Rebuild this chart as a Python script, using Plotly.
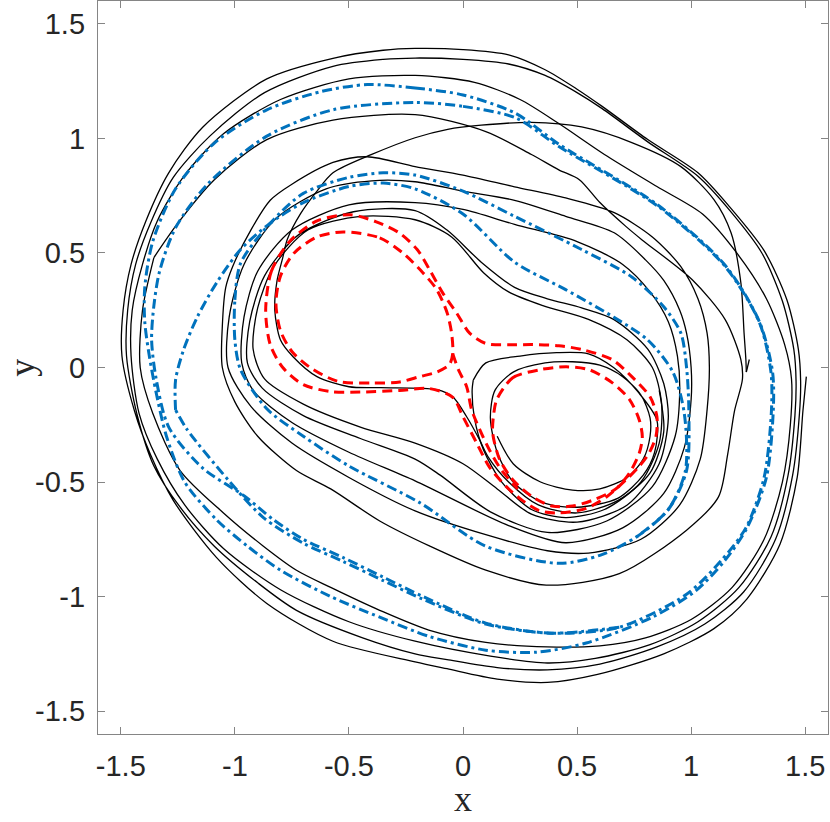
import plotly.graph_objects as go

# ---------------- data (data units) ----------------
tick_vals = [-1.5, -1, -0.5, 0, 0.5, 1, 1.5]
tick_text = ["-1.5", "-1", "-0.5", "0", "0.5", "1", "1.5"]

# black trajectory: outer laps, from the spike on the right to the corner on the left
traj_outer = [
    (1.505, -0.04), (1.49, -0.19), (1.465, -0.48), (1.39, -0.77), (1.245, -1.01), (1.10, -1.14),
    (0.88, -1.25), (0.59, -1.34), (0.37, -1.375), (0.15, -1.36), (-0.07, -1.315), (-0.21, -1.285),
    (-0.57, -1.195), (-0.86, -1.03), (-1.08, -0.83), (-1.27, -0.58), (-1.37, -0.38), (-1.44, -0.19),
    (-1.495, 0.05), (-1.49, 0.25), (-1.455, 0.45), (-1.39, 0.64), (-1.29, 0.85), (-1.14, 1.05),
    (-0.86, 1.26), (-0.57, 1.35), (-0.35, 1.385), (-0.21, 1.393), (0.0, 1.388), (0.2, 1.365),
    (0.36, 1.3), (0.5, 1.215), (0.61, 1.14), (0.81, 0.995), (1.03, 0.85), (1.17, 0.70), (1.32, 0.51),
    (1.42, 0.295), (1.47, 0.08), (1.48, -0.06), (1.475, -0.2), (1.445, -0.47), (1.37, -0.75),
    (1.23, -0.98), (1.06, -1.12), (0.85, -1.22), (0.6, -1.295), (0.37, -1.32), (0.15, -1.31),
    (-0.07, -1.275), (-0.21, -1.25), (-0.44, -1.18), (-0.73, -1.06), (-0.90, -0.94), (-1.09, -0.78),
    (-1.24, -0.61), (-1.355, -0.43), (-1.43, -0.2), (-1.475, 0.05), (-1.47, 0.25), (-1.435, 0.45),
    (-1.37, 0.63), (-1.27, 0.83), (-1.11, 1.01), (-0.87, 1.2), (-0.57, 1.315), (-0.35, 1.345),
    (-0.21, 1.351), (0.0, 1.345), (0.2, 1.325), (0.36, 1.275), (0.5, 1.2), (0.61, 1.13), (0.81, 0.985),
    (1.03, 0.835), (1.17, 0.685), (1.31, 0.5), (1.40, 0.29), (1.45, 0.08), (1.46, -0.06),
    (1.455, -0.21), (1.425, -0.47), (1.35, -0.74), (1.21, -0.96), (1.03, -1.11), (0.82, -1.21),
    (0.58, -1.27), (0.37, -1.29), (0.12, -1.26), (-0.21, -1.195), (-0.5, -1.11), (-0.8, -0.97),
    (-1.05, -0.79), (-1.22, -0.6), (-1.34, -0.4), (-1.42, -0.2), (-1.455, 0.05), (-1.45, 0.25),
    (-1.405, 0.45), (-1.34, 0.64), (-1.22, 0.84), (-1.05, 1.02), (-0.8, 1.17), (-0.5, 1.26),
    (-0.21, 1.275), (0.05, 1.245), (0.25, 1.17), (0.42, 1.065), (0.62, 0.93), (0.85, 0.79),
    (1.05, 0.67), (1.2, 0.5), (1.33, 0.3), (1.41, 0.1), (1.44, -0.05), (1.435, -0.25),
    (1.40, -0.5), (1.32, -0.75), (1.18, -0.96), (1.0, -1.1), (0.8, -1.18), (0.6, -1.215),
    (0.37, -1.22), (0.1, -1.2), (-0.15, -1.146), (-0.365, -1.06), (-0.58, -0.96), (-0.73, -0.885),
    (-0.875, -0.78), (-1.05, -0.635), (-1.24, -0.45), (-1.36, -0.2), (-1.415, 0.0), (-1.405, 0.25),
    (-1.355, 0.48),
]

# black trajectory: from the left corner inwards to the hook at the right lobe
traj_middle = [
    (-1.355, 0.48), (-1.25, 0.63), (-1.09, 0.82), (-0.86, 0.995), (-0.57, 1.08), (-0.21, 1.104),
    (0.1, 1.03), (0.3, 0.93), (0.42, 0.863), (0.51, 0.82), (0.6, 0.72), (0.715, 0.615),
    (0.785, 0.557), (1.005, 0.383), (1.15, 0.208), (1.218, 0.034), (1.225, -0.05), (1.19, -0.19),
    (1.16, -0.38), (1.12, -0.565), (0.98, -0.71), (0.685, -0.9), (0.365, -0.95), (0.10, -0.885),
    (-0.145, -0.78), (-0.365, -0.67), (-0.58, -0.53), (-0.73, -0.45), (-0.9, -0.3), (-1.0, -0.15),
    (-1.055, 0.0), (-1.055, 0.18), (-1.04, 0.35), (-1.01, 0.44), (-0.93, 0.6), (-0.845, 0.73),
    (-0.75, 0.8), (-0.57, 0.895), (-0.42, 0.92), (-0.21, 0.877), (0.0, 0.84), (0.226, 0.789),
    (0.45, 0.74), (0.663, 0.676), (0.83, 0.57), (0.955, 0.44), (1.03, 0.3), (1.07, 0.15),
    (1.08, 0.0), (1.07, -0.185), (1.04, -0.4), (0.95, -0.6), (0.78, -0.75), (0.55, -0.81),
    (0.37, -0.80), (0.1, -0.73), (-0.21, -0.626), (-0.5, -0.48), (-0.75, -0.33), (-0.93, -0.17),
    (-1.03, 0.0), (-1.025, 0.22), (-0.96, 0.45), (-0.82, 0.65), (-0.6, 0.78), (-0.4, 0.815),
    (-0.21, 0.811), (0.0, 0.77), (0.226, 0.73), (0.45, 0.66), (0.663, 0.588), (0.8, 0.47),
    (0.88, 0.38), (0.95, 0.25), (0.98, 0.15), (1.0, 0.0), (1.0, -0.14), (0.97, -0.35),
    (0.88, -0.55), (0.7, -0.7), (0.45, -0.765), (0.2, -0.69), (-0.21, -0.495), (-0.5, -0.37),
    (-0.75, -0.24), (-0.92, -0.1), (-0.97, 0.02), (-0.96, 0.22), (-0.9, 0.42), (-0.75, 0.6),
    (-0.5, 0.71), (-0.21, 0.72), (0.0, 0.69), (0.226, 0.625), (0.5, 0.55), (0.7, 0.45),
    (0.82, 0.33), (0.9, 0.2), (0.94, 0.05), (0.95, -0.1), (0.93, -0.3), (0.83, -0.52),
    (0.63, -0.67), (0.37, -0.72), (0.12, -0.63), (-0.1, -0.47), (-0.21, -0.40), (-0.45, -0.31),
    (-0.7, -0.21), (-0.88, -0.09), (-0.945, 0.02), (-0.935, 0.2), (-0.87, 0.4), (-0.72, 0.58),
    (-0.48, 0.68), (-0.21, 0.685), (-0.07, 0.6), (0.08, 0.46), (0.226, 0.35), (0.37, 0.30),
    (0.52, 0.26), (0.66, 0.21), (0.81, 0.08), (0.88, -0.07), (0.9, -0.22), (0.86, -0.42),
    (0.72, -0.6), (0.5, -0.675), (0.3, -0.64), (0.15, -0.53), (0.0, -0.42), (-0.21, -0.33),
    (-0.45, -0.26), (-0.7, -0.16), (-0.87, -0.05), (-0.92, 0.08), (-0.9, 0.26), (-0.83, 0.44),
    (-0.68, 0.6), (-0.45, 0.66), (-0.21, 0.645), (-0.05, 0.57), (0.09, 0.414), (0.2, 0.33),
    (0.35, 0.27), (0.55, 0.21), (0.72, 0.12), (0.83, 0.0), (0.87, -0.15), (0.86, -0.33),
    (0.78, -0.5), (0.62, -0.62), (0.45, -0.655), (0.3, -0.62), (0.17, -0.5), (0.09, -0.36),
    (0.05, -0.22), (0.04, -0.1), (0.045, -0.055),
]

# black trajectory: loops inside the right lobe, starting at the hook
traj_lobe = [
    (0.045, -0.055), (0.1, 0.02), (0.25, 0.05), (0.41, 0.065), (0.55, 0.06), (0.66, 0.0),
    (0.77, -0.11), (0.85, -0.23), (0.84, -0.37), (0.79, -0.47), (0.68, -0.57), (0.5, -0.61),
    (0.35, -0.59), (0.22, -0.5), (0.15, -0.37), (0.12, -0.22), (0.14, -0.1), (0.22, -0.02),
    (0.36, 0.02), (0.48, 0.025), (0.6, 0.01), (0.7, -0.04), (0.78, -0.12), (0.82, -0.22),
    (0.82, -0.3), (0.79, -0.4), (0.72, -0.48), (0.6, -0.53), (0.48, -0.535), (0.34, -0.5),
    (0.22, -0.42), (0.15, -0.3),
]

# black arc that ends at the small spike near (1.24, 0)
traj_arc = [
    (0.86, -0.1), (0.88, -0.28), (0.82, -0.46), (0.68, -0.58), (0.5, -0.635), (0.33, -0.6),
    (0.2, -0.5), (0.11, -0.39), (0.073, -0.316), (0.016, -0.215), (-0.045, -0.128),
    (-0.115, -0.097), (-0.36, -0.088), (-0.50, -0.084), (-0.64, -0.04), (-0.745, 0.047),
    (-0.80, 0.12), (-0.825, 0.25), (-0.815, 0.38), (-0.79, 0.48), (-0.77, 0.56), (-0.71, 0.675),
    (-0.64, 0.77), (-0.57, 0.85), (-0.4, 0.93), (-0.21, 1.003), (-0.067, 1.04), (0.08, 1.058),
    (0.30, 1.07), (0.52, 1.05), (0.74, 0.982), (0.955, 0.877), (1.10, 0.733), (1.175, 0.588),
    (1.218, 0.37), (1.232, 0.152), (1.24, 0.034), (1.242, -0.02),
]
arc_spike = [(1.242, -0.02), (1.255, 0.035)]

# blue dash-dot curves
blue_outer_1 = [
    (-0.42, 1.235), (-0.21, 1.22), (0.0, 1.19), (0.23, 1.11), (0.42, 0.975), (0.86, 0.705),
    (1.15, 0.445), (1.30, 0.198), (1.357, -0.02), (1.36, -0.19), (1.33, -0.48), (1.245, -0.70),
    (1.15, -0.84), (1.02, -0.975), (0.83, -1.09), (0.54, -1.203), (0.32, -1.243), (0.10, -1.234),
    (-0.145, -1.175), (-0.365, -1.09), (-0.58, -1.0), (-0.80, -0.885), (-0.945, -0.78),
    (-1.08, -0.665), (-1.22, -0.5), (-1.3, -0.3), (-1.345, -0.11), (-1.375, 0.05),
    (-1.395, 0.2), (-1.395, 0.35), (-1.36, 0.55), (-1.26, 0.78), (-1.09, 0.98),
    (-0.86, 1.125), (-0.62, 1.205), (-0.42, 1.235),
]
blue_outer_2 = [
    (-0.21, 1.157), (0.0, 1.14), (0.23, 1.09), (0.42, 0.965), (0.86, 0.70), (1.15, 0.44),
    (1.30, 0.195), (1.35, -0.02), (1.352, -0.19), (1.32, -0.48), (1.24, -0.70), (1.13, -0.845),
    (0.98, -0.99), (0.685, -1.134), (0.39, -1.16), (0.10, -1.116), (-0.175, -1.0), (-0.35, -0.915),
    (-0.525, -0.83), (-0.70, -0.75), (-0.83, -0.665), (-0.96, -0.56), (-1.14, -0.44),
    (-1.29, -0.26), (-1.345, -0.05), (-1.365, 0.12), (-1.355, 0.27), (-1.33, 0.42), (-1.26, 0.61),
    (-1.12, 0.8), (-0.86, 1.01), (-0.57, 1.125), (-0.21, 1.157),
]
blue_inner_1 = [
    (-1.0, 0.12), (-1.0, 0.295), (-0.975, 0.455), (-0.845, 0.63), (-0.7, 0.76), (-0.5, 0.83),
    (-0.35, 0.85), (-0.21, 0.84), (0.0, 0.77), (0.226, 0.66), (0.52, 0.515), (0.74, 0.395),
    (0.88, 0.265), (0.955, 0.15), (0.98, 0.0), (0.99, -0.185), (0.98, -0.45), (0.9, -0.62),
    (0.76, -0.74), (0.6, -0.82), (0.42, -0.855), (0.10, -0.78), (-0.19, -0.59), (-0.5, -0.43),
    (-0.7, -0.3), (-0.86, -0.18), (-0.975, -0.01), (-1.0, 0.12),
]
blue_corner_low = [
    (0.685, -1.134), (0.39, -1.16), (0.10, -1.12), (-0.175, -1.012), (-0.35, -0.93),
    (-0.525, -0.847), (-0.70, -0.767), (-0.875, -0.655), (-1.03, -0.49), (-1.21, -0.27),
    (-1.26, -0.185),
]
blue_corner_up = [
    (-1.26, -0.185), (-1.26, -0.055), (-1.225, 0.077), (-1.165, 0.22), (-1.08, 0.37),
    (-0.975, 0.515), (-0.845, 0.63), (-0.7, 0.72), (-0.5, 0.79), (-0.35, 0.805), (-0.21, 0.78),
    (0.0, 0.67), (0.226, 0.46), (0.45, 0.34), (0.66, 0.22), (0.81, 0.12), (0.92, -0.02),
    (0.97, -0.2), (0.975, -0.45), (0.9, -0.62), (0.76, -0.74),
]

# red dashed curves
red_outer = [
    (-0.865, 0.25), (-0.84, 0.42), (-0.76, 0.55), (-0.64, 0.64), (-0.495, 0.667), (-0.38, 0.636),
    (-0.28, 0.588), (-0.20, 0.514), (-0.146, 0.426), (-0.089, 0.326), (-0.028, 0.238),
    (0.029, 0.15), (0.1, 0.105), (0.204, 0.099), (0.305, 0.1), (0.42, 0.095), (0.523, 0.078),
    (0.655, 0.034), (0.74, -0.04), (0.82, -0.128), (0.85, -0.215), (0.846, -0.30),
    (0.816, -0.373), (0.77, -0.434), (0.715, -0.49), (0.63, -0.564), (0.54, -0.615),
    (0.42, -0.635), (0.335, -0.625), (0.26, -0.58), (0.19, -0.52), (0.116, -0.435), (0.06, -0.33),
    (0.0, -0.215), (-0.045, -0.13), (-0.146, -0.092), (-0.277, -0.1), (-0.45, -0.107),
    (-0.58, -0.105), (-0.7, -0.075), (-0.79, 0.0), (-0.845, 0.1), (-0.865, 0.25),
]
red_left = [
    (-0.525, 0.592), (-0.365, 0.566), (-0.264, 0.5), (-0.176, 0.414), (-0.115, 0.34),
    (-0.07, 0.24), (-0.05, 0.15), (-0.045, 0.06), (-0.06, 0.012), (-0.115, -0.02), (-0.19, -0.04),
    (-0.277, -0.063), (-0.4, -0.068), (-0.55, -0.06), (-0.67, -0.0), (-0.75, 0.07), (-0.8, 0.16),
    (-0.82, 0.28), (-0.8, 0.4), (-0.74, 0.5), (-0.64, 0.57), (-0.525, 0.592),
]
red_right = [
    (0.148, -0.14), (0.218, -0.045), (0.335, -0.01), (0.453, 0.003), (0.554, -0.01),
    (0.655, -0.067), (0.73, -0.14), (0.773, -0.23), (0.786, -0.303), (0.773, -0.373),
    (0.73, -0.46), (0.67, -0.53), (0.567, -0.58), (0.48, -0.605), (0.39, -0.605), (0.305, -0.565),
    (0.218, -0.49), (0.16, -0.40), (0.13, -0.285), (0.135, -0.2), (0.148, -0.14),
]
red_cusp = [
    (-0.045, 0.06), (-0.02, -0.01), (0.016, -0.084), (0.038, -0.185), (0.073, -0.27),
    (0.116, -0.36), (0.17, -0.45), (0.24, -0.53),
]

# ---------------- figure ----------------
BLACK = dict(color="#000000", width=1.3, shape="spline", smoothing=0.8)
BLUE = dict(color="#0072BD", width=3.0, dash="10px,4px,3px,4px", shape="spline", smoothing=0.8)
RED = dict(color="#FF0000", width=3.0, dash="10px,6px", shape="spline", smoothing=0.8)

fig = go.Figure()


def add(points, style):
    fig.add_trace(go.Scatter(x=[p[0] for p in points], y=[p[1] for p in points],
                             mode="lines", line=style, hoverinfo="skip", showlegend=False))


for seg in (traj_outer, traj_middle, traj_lobe, traj_arc):
    add(seg, BLACK)
add(arc_spike, dict(color="#000000", width=1.3))
for seg in (blue_outer_1, blue_outer_2, blue_inner_1, blue_corner_low, blue_corner_up):
    add(seg, BLUE)
for seg in (red_outer, red_left, red_right, red_cusp):
    add(seg, RED)

axis_common = dict(
    range=[-1.6, 1.6], tickvals=tick_vals, ticktext=tick_text,
    showline=True, linecolor="#858585", linewidth=1.3, mirror="ticks",
    ticks="inside", ticklen=7, tickwidth=1.2, tickcolor="#858585",
    showgrid=False, zeroline=False, automargin=False,
    tickfont=dict(family="Liberation Sans, Arial, sans-serif", size=29, color="#262626"),
)
fig.update_xaxes(**axis_common, ticklabelstandoff=6)
fig.update_yaxes(**axis_common, ticklabelstandoff=6)

fig.update_layout(
    width=830, height=822,
    margin=dict(l=98, r=2, t=1, b=88),
    paper_bgcolor="white", plot_bgcolor="white",
    annotations=[
        dict(text="x", xref="paper", yref="paper", x=0.5, y=-0.089, xanchor="center",
             yanchor="middle", showarrow=False,
             font=dict(family="Liberation Serif, Times New Roman, serif", size=36, color="#262626")),
        dict(text="y", xref="paper", yref="paper", x=-0.105, y=0.5, xanchor="center",
             yanchor="middle", textangle=-90, showarrow=False,
             font=dict(family="Liberation Serif, Times New Roman, serif", size=36, color="#262626")),
    ],
)

fig.write_html("out.html", config={"displayModeBar": False},
               post_script="document.body.style.margin='0';document.body.style.overflow='hidden';")
